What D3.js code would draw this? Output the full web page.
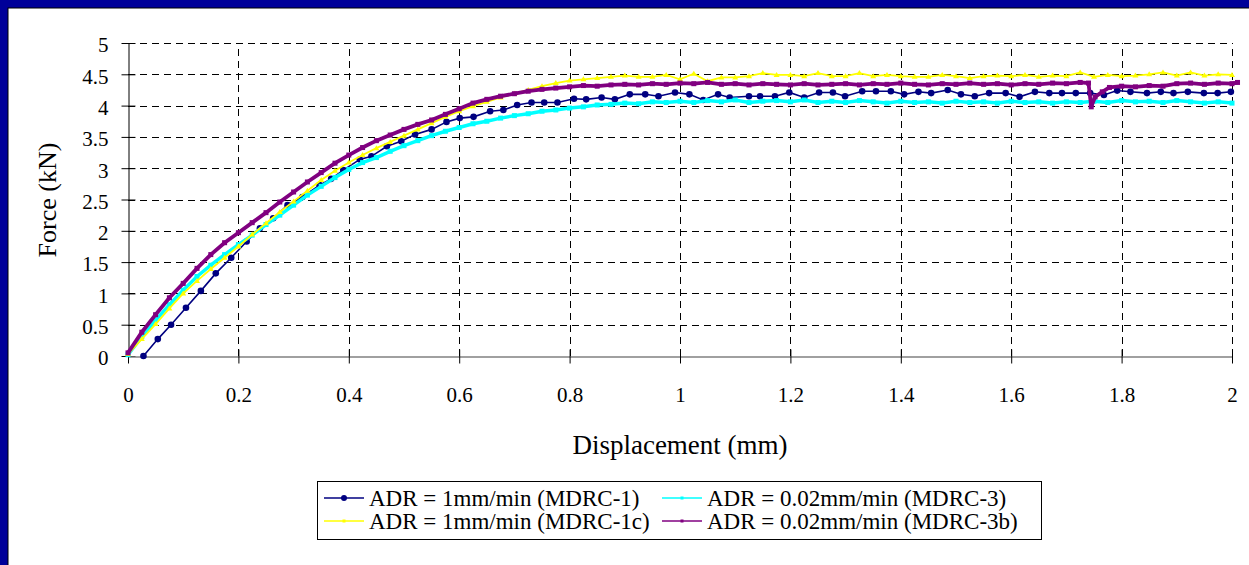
<!DOCTYPE html>
<html><head><meta charset="utf-8">
<script src="https://cdn.jsdelivr.net/npm/d3@7"></script>
<style>html,body{margin:0;padding:0;background:#fff;} svg{display:block;}</style>
</head><body><svg id="c" width="1249" height="565"></svg>
<script>
// ---------- data ----------
const xTickValues = [0,0.2,0.4,0.6,0.8,1,1.2,1.4,1.6,1.8,2];
const xTickLabels = ["0","0.2","0.4","0.6","0.8","1","1.2","1.4","1.6","1.8","2"];
const yTickValues = [0,0.5,1,1.5,2,2.5,3,3.5,4,4.5,5];
const yTickLabels = ["0","0.5","1","1.5","2","2.5","3","3.5","4","4.5","5"];
const seriesNames = ["ADR = 1mm/min (MDRC-1)","ADR = 0.02mm/min (MDRC-3)","ADR = 1mm/min (MDRC-1c)","ADR = 0.02mm/min (MDRC-3b)"];
const seriesColors = ["#000080","#00FFFF","#FFFF00","#800080"];

// MDRC-1 (navy, circle markers)
const disp1 = [0.028,0.054,0.078,0.105,0.132,0.159,0.187,0.215,0.239,0.263,
0.289,0.316,0.347,0.368,0.39,0.42,0.441,0.469,0.495,0.52,
0.55,0.577,0.601,0.626,0.656,0.68,0.705,0.731,0.754,0.778,
0.808,0.83,0.858,0.882,0.909,0.937,0.961,0.991,1.017,1.042,
1.069,1.09,1.125,1.145,1.172,1.198,1.225,1.252,1.277,1.299,
1.33,1.355,1.382,1.406,1.432,1.455,1.485,1.509,1.534,1.56,
1.59,1.615,1.643,1.669,1.692,1.717,1.743,1.768,1.792,1.816,
1.846,1.871,1.894,1.92,1.949,1.974,1.998];
const force1 = [0,0.27,0.5,0.77,1.04,1.32,1.57,1.83,2.04,2.2,
2.41,2.54,2.73,2.83,2.97,3.14,3.19,3.35,3.43,3.54,
3.62,3.74,3.80,3.82,3.91,3.93,4.01,4.05,4.05,4.05,
4.11,4.10,4.13,4.10,4.18,4.18,4.15,4.21,4.18,4.09,
4.18,4.13,4.15,4.15,4.15,4.21,4.13,4.21,4.21,4.15,
4.23,4.23,4.23,4.18,4.22,4.20,4.25,4.18,4.15,4.20,
4.20,4.14,4.22,4.20,4.20,4.20,4.20,4.17,4.24,4.22,
4.20,4.22,4.20,4.22,4.20,4.20,4.22];

// shared displacement samples for MDRC-3 and MDRC-1c
const dispGrid = [0,0.025,0.05,0.075,0.1,0.125,0.15,0.175,0.2,0.225,
0.25,0.275,0.3,0.325,0.35,0.375,0.4,0.425,0.45,0.475,
0.5,0.525,0.55,0.575,0.6,0.625,0.65,0.675,0.7,0.725,
0.75,0.775,0.8,0.825,0.85,0.875,0.9,0.925,0.95,0.975,
1,1.025,1.05,1.075,1.1,1.125,1.15,1.175,1.2,1.225,
1.25,1.275,1.3,1.325,1.35,1.375,1.4,1.425,1.45,1.475,
1.5,1.525,1.55,1.575,1.6,1.625,1.65,1.675,1.7,1.725,
1.75,1.775,1.8,1.825,1.85,1.875,1.9,1.925,1.95,1.975,2];

// MDRC-3 (cyan)
const force3 = [0.02,0.31,0.57,0.82,1.05,1.27,1.45,1.62,1.78,1.93,
2.10,2.25,2.41,2.57,2.71,2.85,2.98,3.09,3.17,3.27,
3.36,3.44,3.52,3.59,3.65,3.71,3.75,3.80,3.84,3.87,
3.91,3.93,3.96,3.98,4.01,4.02,4.04,4.03,4.06,4.05,
4.07,4.05,4.08,4.06,4.09,4.05,4.07,4.08,4.06,4.09,
4.05,4.07,4.05,4.08,4.06,4.04,4.07,4.05,4.06,4.04,
4.07,4.05,4.06,4.04,4.07,4.05,4.06,4.04,4.06,4.05,
4.07,4.05,4.08,4.06,4.07,4.05,4.08,4.06,4.04,4.06,4.04];

// MDRC-1c (yellow)
const force1c = [0.03,0.27,0.51,0.76,1.00,1.20,1.39,1.57,1.75,1.94,
2.12,2.30,2.47,2.64,2.81,2.96,3.09,3.21,3.32,3.42,
3.52,3.62,3.72,3.82,3.91,3.99,4.06,4.13,4.19,4.25,
4.31,4.36,4.40,4.42,4.44,4.46,4.48,4.46,4.46,4.49,
4.42,4.51,4.39,4.45,4.45,4.47,4.52,4.49,4.49,4.47,
4.52,4.47,4.47,4.52,4.47,4.49,4.47,4.46,4.46,4.49,
4.47,4.44,4.47,4.48,4.47,4.49,4.46,4.48,4.47,4.53,
4.46,4.49,4.47,4.48,4.50,4.53,4.48,4.53,4.48,4.50,4.49];

// MDRC-3b (purple)
const disp3b = [0,0.025,0.05,0.075,0.1,0.125,0.15,0.175,0.2,0.225,
0.25,0.275,0.3,0.325,0.35,0.375,0.4,0.425,0.45,0.475,
0.5,0.525,0.55,0.575,0.6,0.625,0.65,0.675,0.7,0.725,
0.75,0.775,0.8,0.825,0.85,0.875,0.9,0.925,0.95,0.975,
1,1.025,1.05,1.075,1.1,1.125,1.15,1.175,1.2,1.225,
1.25,1.275,1.3,1.325,1.35,1.375,1.4,1.425,1.45,1.475,
1.5,1.525,1.55,1.575,1.6,1.625,1.65,1.675,1.7,1.725,
1.74,1.745,1.752,1.765,1.778,
1.8,1.825,1.85,1.875,1.9,1.925,1.95,1.975,2,2.01];
const force3b = [0.05,0.38,0.66,0.93,1.16,1.40,1.62,1.81,1.97,2.13,
2.29,2.46,2.62,2.78,2.93,3.08,3.21,3.33,3.44,3.53,
3.62,3.70,3.77,3.86,3.95,4.04,4.10,4.15,4.19,4.23,
4.26,4.28,4.30,4.32,4.31,4.33,4.34,4.33,4.35,4.34,
4.36,4.35,4.37,4.34,4.35,4.33,4.35,4.34,4.33,4.35,
4.33,4.34,4.35,4.33,4.35,4.34,4.36,4.34,4.33,4.35,
4.34,4.36,4.34,4.35,4.33,4.35,4.34,4.36,4.35,4.37,
4.36,3.98,4.14,4.22,4.29,
4.31,4.30,4.32,4.31,4.35,4.36,4.34,4.36,4.35,4.37];

// ---------- drawing ----------
const svg = d3.select("#c");
const W = 1249, H = 565;
const font = "'Liberation Serif','Times New Roman',serif";

svg.append("rect").attr("x",0).attr("y",0).attr("width",W).attr("height",H).attr("fill","#000099");
svg.append("rect").attr("x",8).attr("y",8).attr("width",W).attr("height",H).attr("fill","#fff")
  .attr("stroke","#000").attr("stroke-width",1);

const x = d3.scaleLinear().domain([0,2]).range([128,1232]);
const y = d3.scaleLinear().domain([0,5]).range([356,43]);

// gridlines
const g = svg.append("g");
g.selectAll("line.hg").data(yTickValues.filter(v=>v>0)).join("line")
  .attr("x1",x(0)).attr("x2",x(2)).attr("y1",d=>Math.round(y(d))+0.5).attr("y2",d=>Math.round(y(d))+0.5)
  .attr("stroke","#000").attr("stroke-dasharray","7,5").attr("stroke-width",1);
g.selectAll("line.vg").data(xTickValues.filter(v=>v>0)).join("line")
  .attr("y1",y(0)).attr("y2",y(5)).attr("x1",d=>Math.round(x(d))+0.5).attr("x2",d=>Math.round(x(d))+0.5)
  .attr("stroke","#000").attr("stroke-dasharray","7,5").attr("stroke-width",1);

// axes
const yAxis = d3.axisLeft(y).tickValues(yTickValues).tickFormat((d,i)=>yTickLabels[i]).tickSizeInner(7).tickSizeOuter(0).tickPadding(13);
const ya = svg.append("g").attr("transform",`translate(${Math.round(x(0))+0.5},0)`).call(yAxis);
ya.select(".domain").attr("stroke","#000");
ya.selectAll(".tick line").attr("x2",-7).attr("x1",7).attr("stroke","#000");
ya.selectAll(".tick text").attr("font-family",font).attr("font-size",21).attr("fill","#000").attr("dy","0.42em");

const xAxis = d3.axisBottom(x).tickValues(xTickValues).tickFormat((d,i)=>xTickLabels[i]).tickSizeInner(7).tickSizeOuter(0).tickPadding(24);
const xa = svg.append("g").attr("transform",`translate(0,${Math.round(y(0))+0.5})`).call(xAxis);
xa.select(".domain").attr("stroke","#808080").attr("stroke-width",1.5);
xa.selectAll(".tick line").attr("y1",-7).attr("y2",7).attr("stroke","#000");
xa.selectAll(".tick text").attr("font-family",font).attr("font-size",21).attr("fill","#000");

// titles
svg.append("text").attr("x",680).attr("y",454).attr("text-anchor","middle")
  .attr("font-family",font).attr("font-size",27).attr("fill","#000").text("Displacement (mm)");
svg.append("text").attr("transform","translate(56,200) rotate(-90)").attr("text-anchor","middle")
  .attr("font-family",font).attr("font-size",26).attr("fill","#000").text("Force (kN)");

// series
const line = d3.line().x(d=>x(d[0])).y(d=>y(d[1]));
const pts1 = d3.zip(disp1, force1);
const pts3 = d3.zip(dispGrid, force3);
const pts1c = d3.zip(dispGrid, force1c);
const pts3b = d3.zip(disp3b, force3b);

const plot = svg.append("g");
// MDRC-1 navy
plot.append("path").datum(pts1).attr("d",line).attr("fill","none").attr("stroke",seriesColors[0]).attr("stroke-width",1.6);
plot.selectAll("circle.s1").data(pts1).join("circle").attr("cx",d=>x(d[0])).attr("cy",d=>y(d[1])).attr("r",3.3).attr("fill",seriesColors[0]);
// MDRC-3 cyan
plot.append("path").datum(pts3).attr("d",line).attr("fill","none").attr("stroke",seriesColors[1]).attr("stroke-width",3.5);
plot.selectAll("rect.s3").data(pts3).join("rect").attr("x",d=>x(d[0])-2.5).attr("y",d=>y(d[1])-2.5).attr("width",5).attr("height",5).attr("fill",seriesColors[1]);
// MDRC-1c yellow
plot.append("path").datum(pts1c).attr("d",line).attr("fill","none").attr("stroke",seriesColors[2]).attr("stroke-width",1.8);
plot.selectAll("path.s1c").data(pts1c).join("path")
  .attr("d",d=>`M${x(d[0])},${y(d[1])-3}l3,5l-6,0z`).attr("fill",seriesColors[2]);
// MDRC-3b purple
plot.append("path").datum(pts3b).attr("d",line).attr("fill","none").attr("stroke",seriesColors[3]).attr("stroke-width",3.8);
plot.selectAll("rect.s3b").data(pts3b).join("rect").attr("x",d=>x(d[0])-2.5).attr("y",d=>y(d[1])-2.5).attr("width",5).attr("height",5).attr("fill",seriesColors[3]);

// legend
const lg = svg.append("g");
lg.append("rect").attr("x",317.5).attr("y",481.5).attr("width",724).attr("height",58).attr("fill","#fff").attr("stroke","#000").attr("stroke-width",1);
const colX = [324, 662];
const rowY = [498, 521];
seriesNames.forEach((name,i)=>{
  const cx = colX[i%2], cy = rowY[Math.floor(i/2)];
  lg.append("line").attr("x1",cx).attr("x2",cx+40).attr("y1",cy).attr("y2",cy).attr("stroke",seriesColors[i]).attr("stroke-width",1.5);
  if(i===0) lg.append("circle").attr("cx",cx+20).attr("cy",cy).attr("r",3).attr("fill",seriesColors[i]);
  else lg.append("rect").attr("x",cx+18.5).attr("y",cy-1.5).attr("width",3).attr("height",3).attr("fill",seriesColors[i]);
  lg.append("text").attr("x",cx+45).attr("y",cy+7.5).attr("font-family",font).attr("font-size",23).attr("fill","#000").text(name);
});
</script></body></html>
